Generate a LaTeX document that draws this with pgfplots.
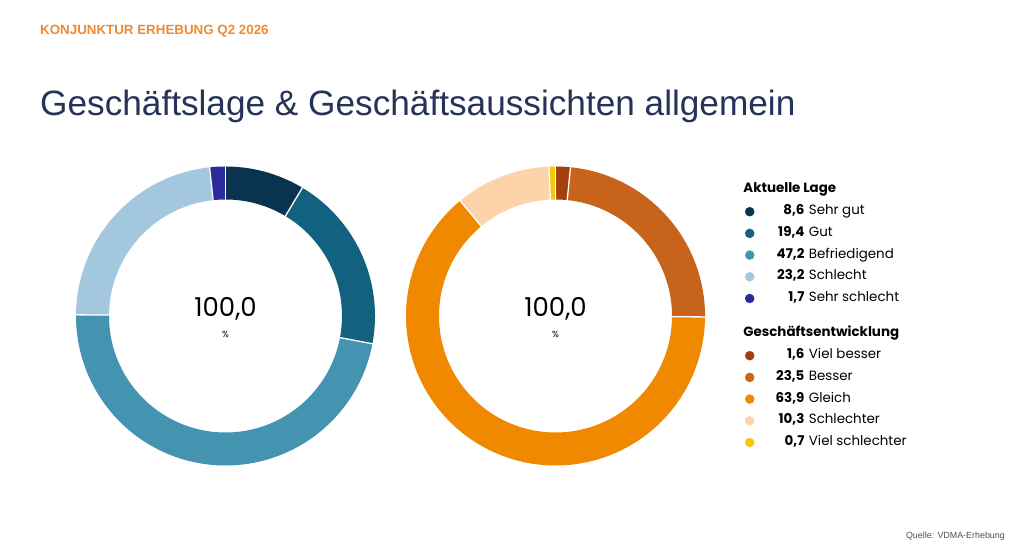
\documentclass[border=0pt]{standalone}
\usepackage{pgfplots}
\pgfplotsset{compat=1.18}
\usepackage{pgfplotstable}
\usepgfplotslibrary{polar}
\usepackage{fontspec}
\setmainfont{Poppins}
\newfontfamily\arial{Liberation Sans}

\definecolor{L0}{HTML}{0A3350}
\definecolor{L1}{HTML}{12627F}
\definecolor{L2}{HTML}{4493B1}
\definecolor{L3}{HTML}{A2C7DF}
\definecolor{L4}{HTML}{2D2B9B}
\definecolor{R0}{HTML}{A3400B}
\definecolor{R1}{HTML}{C7631B}
\definecolor{R2}{HTML}{F08900}
\definecolor{R3}{HTML}{FDD3AA}
\definecolor{R4}{HTML}{F2C80F}
\definecolor{hdr}{HTML}{EE8A35}
\definecolor{ttl}{HTML}{263358}
\definecolor{src}{HTML}{505050}

% Aktuelle Lage
\pgfplotstableread{
value
8.6
19.4
47.2
23.2
1.7
}\lage
% Geschäftsentwicklung
\pgfplotstableread{
value
1.6
23.5
63.9
10.3
0.7
}\entw

% compute start/end angles (clockwise from 12 o'clock)
\newcommand\prepdonut[2]{%
  \pgfplotstablegetrowsof{#1}\edef\dnN{\pgfplotsretval}%
  \pgfmathtruncatemacro\dnLast{\dnN-1}%
  \def\dnTot{0}%
  \pgfplotsforeachungrouped \dnI in {0,...,\dnLast}{%
    \pgfplotstablegetelem{\dnI}{value}\of{#1}%
    \pgfmathsetmacro\dnTot{\dnTot+\pgfplotsretval}}%
  \def\dnCum{0}%
  \pgfplotsforeachungrouped \dnI in {0,...,\dnLast}{%
    \pgfplotstablegetelem{\dnI}{value}\of{#1}%
    \pgfmathsetmacro\dnS{90-(\dnCum/\dnTot)*360}%
    \pgfmathsetmacro\dnCum{\dnCum+\pgfplotsretval}%
    \pgfmathsetmacro\dnE{90-(\dnCum/\dnTot)*360}%
    \expandafter\xdef\csname #2s\dnI\endcsname{\dnS}%
    \expandafter\xdef\csname #2e\dnI\endcsname{\dnE}}%
}
\prepdonut{\lage}{L}
\prepdonut{\entw}{R}

\pgfplotsset{
  donut/.style={
    width=300pt, height=300pt, scale only axis,
    xmin=-1, xmax=1, ymin=-1, ymax=1,
    hide axis, clip=false, anchor=center,
    legend image code/.code={\fill[##1] (4.5pt,0pt) circle (4.5pt);},
    legend cell align=left,
    legend style={draw=none, fill=none, inner sep=0pt, outer sep=0pt,
      anchor=north west, row sep=9.7pt,
      font=\fontsize{13.4}{16}\selectfont,
      nodes={inner sep=0pt, text height=9pt, text depth=3pt},
      /tikz/every even column/.append style={column sep=2pt}},
  }
}
\newcommand\drawdonut[1]{%
  \pgfplotsforeachungrouped \i in {0,...,4}{%
    \edef\temp{\noexpand\addplot[forget plot, data cs=polar,
      domain=\csname #1e\i\endcsname:\csname #1s\i\endcsname,
      samples=120, line width=33pt, draw=#1\i] ({x},{0.8867});}%
    \temp}%
  \pgfplotsforeachungrouped \i in {0,...,4}{%
    \edef\temp{\noexpand\addplot[forget plot, data cs=polar, draw=white,
      line width=1.3pt] coordinates
      {(\csname #1s\i\endcsname,0.765) (\csname #1s\i\endcsname,1.005)};}%
    \temp}%
  \node[font=\fontsize{26}{30}\selectfont, inner sep=0pt] at (axis cs:0,0.05) {100,0};
  \node[font=\fontsize{9}{10}\selectfont, inner sep=0pt] at (axis cs:0,-0.12) {\%};
}
\newcommand\val[1]{\makebox[50pt][r]{\textbf{#1}}\hspace{4.5pt}}

\begin{document}
\begin{tikzpicture}
\fill[white] (0pt,0pt) rectangle (1024pt,549pt);

\node[anchor=base west, inner sep=0pt, text=hdr,
  font=\arial\bfseries\fontsize{13.35}{15}\selectfont] at (40pt,514.5pt)
  {KONJUNKTUR ERHEBUNG Q2 2026};
\node[anchor=base west, inner sep=0pt, text=ttl,
  font=\arial\fontsize{35.2}{40}\selectfont] at (40pt,433pt)
  {Geschäftslage \& Geschäftsaussichten allgemein};
\node[anchor=base east, inner sep=0pt, text=src,
  font=\arial\fontsize{8.9}{10}\selectfont] at (1005pt,11pt)
  {Quelle: VDMA-Erhebung};

\begin{axis}[donut, at={(225.5pt,233pt)},
  legend style={at={(axis description cs:2.2317,0.94)}}]
  \drawdonut{L}
  \addlegendimage{empty legend}\addlegendentry{\hspace{-11pt}\textbf{Aktuelle Lage}}
  \addlegendimage{color=L0}\addlegendentry{\val{8,6}Sehr gut}
  \addlegendimage{color=L1}\addlegendentry{\val{19,4}Gut}
  \addlegendimage{color=L2}\addlegendentry{\val{47,2}Befriedigend}
  \addlegendimage{color=L3}\addlegendentry{\val{23,2}Schlecht}
  \addlegendimage{color=L4}\addlegendentry{\val{1,7}Sehr schlecht}
\end{axis}

\begin{axis}[donut, at={(555.5pt,233pt)},
  legend style={at={(axis description cs:1.1317,0.46)}}]
  \drawdonut{R}
  \addlegendimage{empty legend}\addlegendentry{\hspace{-11pt}\textbf{Geschäftsentwicklung}}
  \addlegendimage{color=R0}\addlegendentry{\val{1,6}Viel besser}
  \addlegendimage{color=R1}\addlegendentry{\val{23,5}Besser}
  \addlegendimage{color=R2}\addlegendentry{\val{63,9}Gleich}
  \addlegendimage{color=R3}\addlegendentry{\val{10,3}Schlechter}
  \addlegendimage{color=R4}\addlegendentry{\val{0,7}Viel schlechter}
\end{axis}
\end{tikzpicture}
\end{document}
